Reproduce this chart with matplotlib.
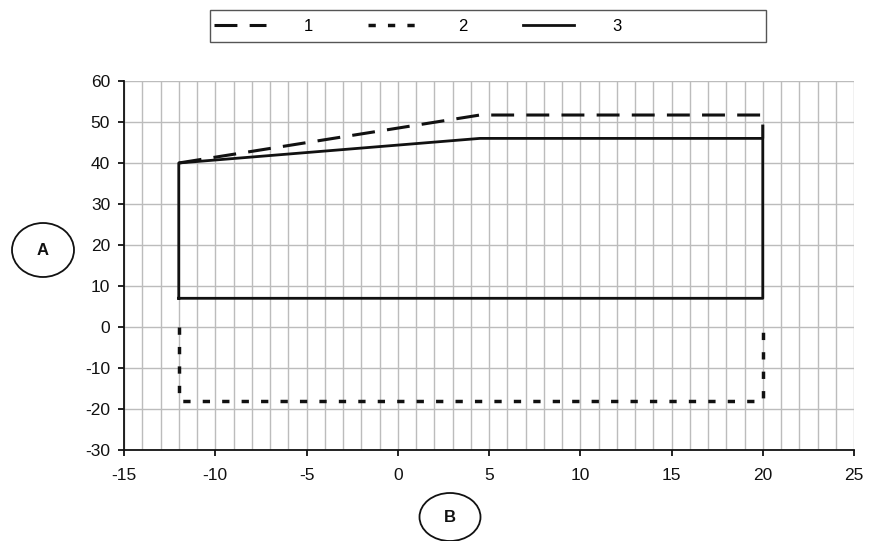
import matplotlib
matplotlib.use("Agg")
import matplotlib.pyplot as plt
from matplotlib.patches import Ellipse, Rectangle
from matplotlib.ticker import MultipleLocator

plt.rcParams['font.family'] = ['Liberation Sans', 'DejaVu Sans']
plt.rcParams['axes.unicode_minus'] = False

# series
x1 = [-12, 4.5, 20, 20]
y1 = [40, 51.7, 51.7, 46]
x2 = [-12, -12, 20, 20]
y2 = [0, -18, -18, 0]
x3 = [-12, -12, 4.5, 20, 20, -12]
y3 = [7, 40, 46, 46, 7, 7]
labels = ['1', '2', '3']

ink = '#111111'
fig = plt.figure(figsize=(8.77, 5.41), dpi=100)
ax = fig.add_axes([0.1414, 0.1682, 0.8324, 0.6821])

l1, = ax.plot(x1, y1, color=ink, lw=2.2, dashes=(7.5, 4), dash_capstyle='butt',
              label=labels[0])
l2, = ax.plot(x2, y2, color=ink, lw=2.5, dashes=(2.1, 3.5), dash_capstyle='butt',
              label=labels[1])
l3, = ax.plot(x3, y3, color=ink, lw=2.0, label=labels[2])

ax.set_xlim(-15, 25)
ax.set_ylim(-30, 60)
ax.xaxis.set_major_locator(MultipleLocator(5))
ax.xaxis.set_minor_locator(MultipleLocator(1))
ax.yaxis.set_major_locator(MultipleLocator(10))
ax.grid(True, which='major', color='#bcbcbc', lw=1.0)
ax.grid(True, which='minor', axis='x', color='#bcbcbc', lw=1.0)
ax.set_axisbelow(True)

for s in ['top', 'right']:
    ax.spines[s].set_visible(False)
for s in ['left', 'bottom']:
    ax.spines[s].set_linewidth(1.3)
    ax.spines[s].set_color(ink)

ax.tick_params(which='major', direction='out', length=4, width=1.3, color=ink,
               labelsize=12.5, labelcolor=ink)
ax.tick_params(axis='x', which='major', pad=9)
ax.tick_params(axis='y', which='major', pad=6)
ax.tick_params(which='minor', length=0)

# legend box at the top
fig.patches.append(Rectangle((210 / 877, 1 - 42 / 541), 556 / 877, 32 / 541,
                             transform=fig.transFigure, fill=False,
                             ec='#555555', lw=1.0))
fig.legend(handles=[l1, l2, l3], loc='center left',
           bbox_to_anchor=(214 / 877, 1 - 26.5 / 541), ncol=3, frameon=False,
           fontsize=12, handlelength=3.1, handletextpad=2.3,
           columnspacing=3.3, borderaxespad=0, borderpad=0)

# circled axis names
fig.patches.append(Ellipse((43 / 877, 1 - 250 / 541), 62 / 877, 54 / 541,
                           transform=fig.transFigure, fill=False, ec=ink, lw=1.3))
fig.text(43 / 877, 1 - 250 / 541, 'A', ha='center', va='center',
         fontsize=12, fontweight='bold', color=ink)
fig.patches.append(Ellipse((450 / 877, 1 - 517 / 541), 61 / 877, 48 / 541,
                           transform=fig.transFigure, fill=False, ec=ink, lw=1.3))
fig.text(450 / 877, 1 - 517 / 541, 'B', ha='center', va='center',
         fontsize=12, fontweight='bold', color=ink)

fig.savefig('out.png', dpi=100)
